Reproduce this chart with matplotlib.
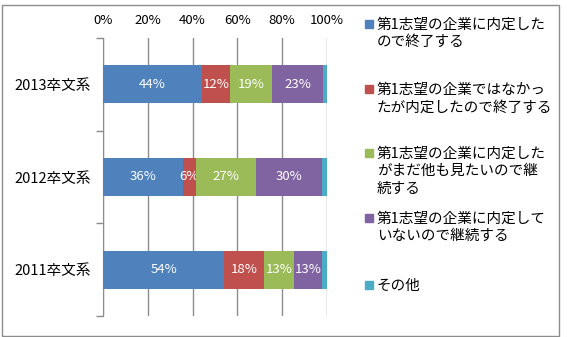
import numpy as np
import matplotlib.pyplot as plt
from matplotlib.patches import Rectangle

plt.rcParams['font.family'] = ['Noto Sans CJK JP', 'DejaVu Sans']

years = ['2013卒文系', '2012卒文系', '2011卒文系']
series = ['第1志望の企業に内定したので終了する',
          '第1志望の企業ではなかったが内定したので終了する',
          '第1志望の企業に内定したがまだ他も見たいので継続する',
          '第1志望の企業に内定していないので継続する',
          'その他']
legend_text = ['第1志望の企業に内定した\nので終了する',
               '第1志望の企業ではなかっ\nたが内定したので終了する',
               '第1志望の企業に内定した\nがまだ他も見たいので継\n続する',
               '第1志望の企業に内定して\nいないので継続する',
               'その他']
# percent per year, same order as years
v_first = [44.2, 35.6, 54.2]
v_notfirst = [12.4, 5.7, 17.7]
v_stillsee = [18.9, 27.0, 13.4]
v_notyet = [22.6, 29.6, 12.6]
v_other = [1.9, 2.1, 2.1]
values = [v_first, v_notfirst, v_stillsee, v_notyet, v_other]
colors = ['#4F81BD', '#C0504D', '#9BBB59', '#8064A2', '#4BACC6']

fig = plt.figure(figsize=(5.7, 3.37), dpi=100)
ax = fig.add_axes([103/570, 1-316/337, 224/570, 278/337])

y = np.array([2, 1, 0])
left = np.zeros(3)
for i, vals in enumerate(values):
    bars = ax.barh(y, vals, left=left, height=0.41, color=colors[i], zorder=3)
    if i < 4:
        ax.bar_label(bars, labels=['%d%%' % round(v) for v in vals],
                     label_type='center', color='white', fontsize=9.5)
    left += np.array(vals)

ax.set_xlim(0, 100)
ax.set_ylim(-0.5, 2.5)
ax.xaxis.tick_top()
ax.set_xticks(range(0, 101, 20))
ax.set_xticklabels(['%d%%' % t for t in range(0, 101, 20)], fontsize=9.5)
ax.tick_params(axis='x', length=0, pad=8)
ax.grid(axis='x', color='#8c8c8c', linewidth=1, zorder=0)
ax.set_yticks(y)
ax.set_yticklabels(years, fontsize=10.5)
ax.tick_params(axis='y', length=0, pad=9)
ax.set_yticks([-0.5, 0.5, 1.5, 2.5], minor=True)
ax.tick_params(axis='y', which='minor', length=5, color='#8c8c8c', width=1)
for s in ['top', 'right', 'bottom']:
    ax.spines[s].set_visible(False)
ax.spines['left'].set_color('#8c8c8c')

# legend drawn by hand, Excel style
leg_y = [24, 89, 153, 218, 285]
for i, txt in enumerate(legend_text):
    yy = 1 - leg_y[i]/337
    fig.patches.append(Rectangle((365/570, yy - 4/337), 8/570, 8/337,
                                 transform=fig.transFigure, color=colors[i]))
    fig.text(377/570, yy + 6/337, txt, fontsize=10.5, va='top', ha='left',
             linespacing=1.3)

fig.patches.append(Rectangle((1.5/570, 1.5/337), 557/570, 331/337,
                             transform=fig.transFigure, fill=False,
                             edgecolor='#8c8c8c', linewidth=1))

plt.savefig('out.png', dpi=100)
